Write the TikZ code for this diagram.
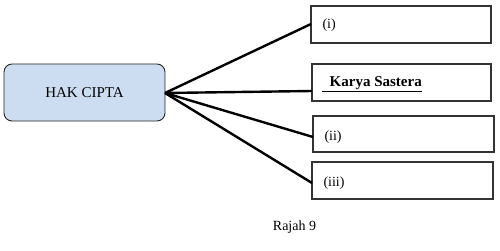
\documentclass[tikz,border=0pt]{standalone}
\usepackage{fontspec}
\setmainfont{Liberation Serif}
\begin{document}
\begin{tikzpicture}[x=1pt,y=-1pt,
  mainbox/.style={draw=black!85,line width=0.9pt,fill={rgb,255:red,204;green,221;blue,241},rounded corners=8pt},
  ansbox/.style={draw=black!80,line width=1.1pt,fill=white},
  link/.style={line width=2.4pt,black}]
\useasboundingbox (0,0) rectangle (500,251);
\draw[mainbox] (4,64) rectangle (165,121);
\node[font=\fontsize{15}{18}\selectfont] (hak) at (84.5,93) {HAK CIPTA};
\coordinate (hub) at (165,93);
\draw[ansbox] (311,6) rectangle (491,43);
\draw[ansbox] (312,64) rectangle (491,101);
\draw[ansbox] (313,116) rectangle (494,152);
\draw[ansbox] (312,162) rectangle (493,199);
\coordinate (e1) at (311,24);
\coordinate (e2) at (312,91);
\coordinate (e3) at (313,137);
\coordinate (e4) at (312,183);
\draw[link] (hub) -- (e1);
\draw[link] (hub) -- (e2);
\draw[link] (hub) -- (e3);
\draw[link] (hub) -- (e4);
\node[anchor=west,font=\fontsize{14}{17}\selectfont] (t1) at (319,25) {(i)};
\node[anchor=west,font=\fontsize{15}{18}\selectfont\bfseries,inner sep=0pt] (t2) at (322,84) {\underline{\ \ Karya Sastera}};
\node[anchor=west,font=\fontsize{14}{17}\selectfont] (t3) at (321,137) {(ii)};
\node[anchor=west,font=\fontsize{14}{17}\selectfont] (t4) at (320,183) {(iii)};
\node[font=\fontsize{14}{17}\selectfont] (cap) at (294.5,227) {Rajah 9};
\end{tikzpicture}
\end{document}
